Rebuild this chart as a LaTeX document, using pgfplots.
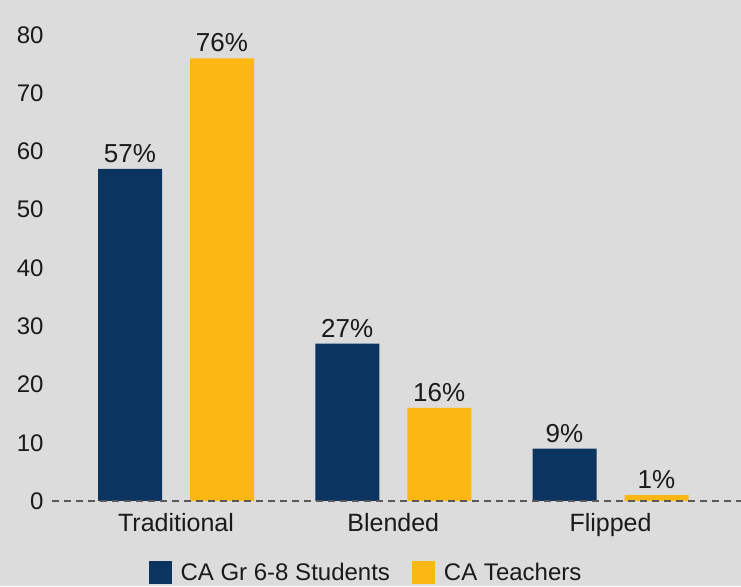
\documentclass[border=0pt]{standalone}
\usepackage{fontspec}
\setmainfont{Liberation Sans}
\usepackage{pgfplots}
\pgfplotsset{compat=1.18}
\definecolor{bg}{HTML}{DCDCDC}
\definecolor{navy}{HTML}{0B3560}
\definecolor{gold}{HTML}{FDB714}
\definecolor{dashc}{HTML}{5A5A5A}
\definecolor{txt}{HTML}{1A1A1A}
\begin{document}
\begin{tikzpicture}[x=1pt,y=1pt]
\fill[bg] (0,0) rectangle (741,586);
\useasboundingbox (0,0) rectangle (741,586);
\begin{axis}[
 at={(52pt,85pt)}, anchor=south west, scale only axis,
 width=689pt, height=501pt,
 ybar=28pt, bar width=64pt,
 xmin=-0.5708, xmax=2.6007, ymin=0, ymax=86,
 xtick={0,1,2}, xticklabels={Traditional,Blended,Flipped},
 ytick={0,10,...,80},
 major tick length=0pt,
 axis x line=bottom, axis y line=left,
 y axis line style={draw=none},
 x axis line style={draw=dashc, dash pattern=on 7pt off 5pt, line width=1.5pt, -},
 axis on top,
 /pgf/number format/assume math mode=true,
 tick label style={font=\fontsize{24}{28}\selectfont, text=txt},
 yticklabel style={xshift=-5pt},
 xticklabel style={font=\fontsize{25}{29}\selectfont, yshift=-9pt},
 nodes near coords={\pgfmathprintnumber{\pgfplotspointmeta}\%},
 every node near coord/.append style={font=\fontsize{26}{30}\selectfont, text=txt, inner sep=6pt},
 clip=false,
 legend style={at={(0.4557,-0.1437)}, anchor=center, draw=none, fill=none,
   legend columns=2, font=\fontsize{24}{28}\selectfont, text=txt,
   /tikz/every odd column/.append style={column sep=7pt},
   /tikz/every even column/.append style={column sep=20pt}},
 legend image code/.code={\fill[#1] (0pt,-11.5pt) rectangle (23pt,11.5pt);},
]
\addplot[fill=navy, draw=none] coordinates {(0,57) (1,27) (2,9)};
\addplot[fill=gold, draw=none] coordinates {(0,76) (1,16) (2,1)};
\legend{CA Gr 6-8 Students, CA Teachers}
\end{axis}
\end{tikzpicture}
\end{document}
